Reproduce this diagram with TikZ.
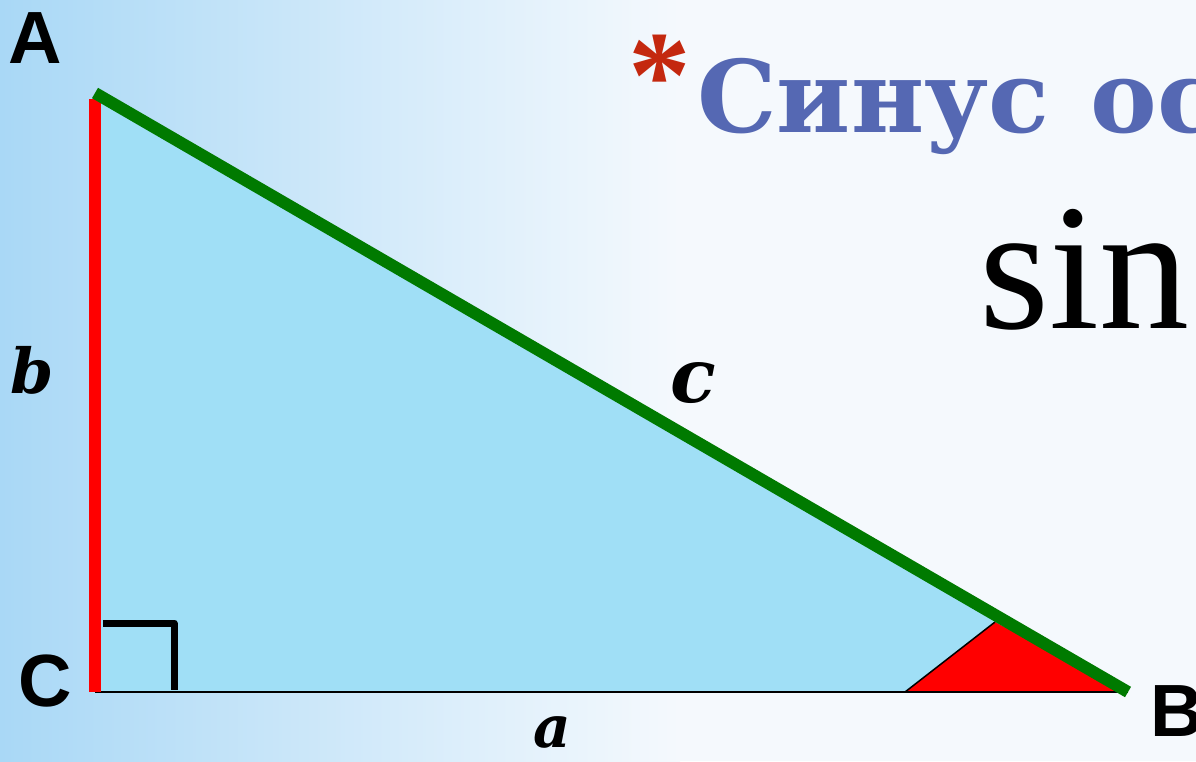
\documentclass[tikz,border=0pt]{standalone}
\usepackage{fontspec}
\setmainfont{Liberation Serif}
\newfontfamily\vertexfont{Liberation Sans}
\newfontfamily\titlefont{DejaVu Serif}
\usepackage{xcolor}

\definecolor{bgblue}{HTML}{A9D8F6}
\definecolor{bgwhite}{HTML}{F5F9FD}
\definecolor{trifill}{HTML}{A0DFF6}
\definecolor{hypgreen}{HTML}{007A00}
\definecolor{titleblue}{HTML}{5568B3}
\definecolor{starred}{HTML}{C4280F}

\begin{document}
\begin{tikzpicture}[
    x=1pt, y=-1pt,
    vertex/.style={anchor=base west, inner sep=0pt, font=\vertexfont\bfseries\fontsize{74}{74}\selectfont},
    side/.style={anchor=base west, inner sep=0pt},
    leg/.style={line width=12pt, draw=red},
    hyp/.style={line width=12pt, draw=hypgreen},
    base/.style={line width=2pt, draw=black}
]

% Frame and background
\clip (0,0) rectangle (1196,761);
\useasboundingbox (0,0) rectangle (1196,761);
\fill[bgwhite] (0,0) rectangle (1196,761);
\shade[left color=bgblue, right color=bgwhite] (0,0) rectangle (680,761);

% Vertices
\coordinate (A) at (95,93);
\coordinate (C) at (95,692);
\coordinate (B) at (1128,692);
\coordinate (angB1) at (905,692);
\coordinate (angB2) at (995,622);

% Triangle
\fill[trifill] (A) -- (C) -- (B) -- cycle;

% Angle at B
\fill[red] (angB1) -- (angB2) -- (B) -- cycle;
\draw[line width=1.5pt] (angB2) -- (angB1);

% Sides
\draw[base] (C) -- (B);
\draw[leg] (C) -- ([yshift=-6pt]A);
\draw[hyp] (A) -- (B);

% Right angle mark
\draw[line width=7pt, line join=round] (103,623) -- (174,623) -- (174,690);

% Vertex labels
\node[vertex] (labA) at (8,63) {A};
\node[vertex] (labC) at (18,706) {C};
\node[vertex] (labB) at (1150,736) {B};

% Side labels
\node[side, font=\titlefont\bfseries\itshape\fontsize{62}{62}\selectfont] (labb) at (10,393) {b};
\node[side, font=\titlefont\bfseries\itshape\fontsize{75}{75}\selectfont] (labc) at (670,402) {c};
\node[side, font=\titlefont\bfseries\itshape\fontsize{58}{58}\selectfont] (laba) at (533,747) {a};

% Title
\node[anchor=north, inner sep=0pt, text=starred, font=\bfseries\fontsize{125}{125}\selectfont] (star) at (660,35) {*};
\node[anchor=base west, inner sep=0pt, text=titleblue, font=\titlefont\bfseries\fontsize{100}{100}\selectfont] (title) at (697,132) {Синус\hspace{7pt} ос};
\node[anchor=base west, inner sep=0pt, font=\fontsize{180}{180}\selectfont] (sin) at (979,328) {sin};

\end{tikzpicture}
\end{document}
